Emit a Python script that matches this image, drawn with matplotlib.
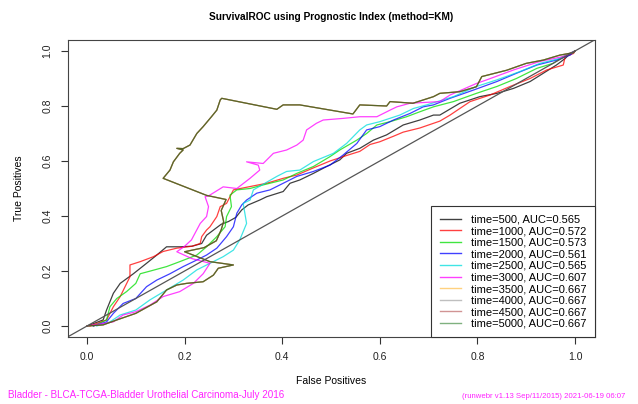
import matplotlib
matplotlib.use("Agg")
import matplotlib.pyplot as plt
from matplotlib.lines import Line2D

plt.rcParams['font.family'] = ['Liberation Sans', 'DejaVu Sans']

# ---------------- data ----------------
times = [500, 1000, 1500, 2000, 2500, 3000, 3500, 4000, 4500, 5000]
aucs = [0.565, 0.572, 0.573, 0.561, 0.565, 0.607, 0.667, 0.667, 0.667, 0.667]

fp_500 = [0.0, 0.033, 0.04, 0.054, 0.068, 0.095, 0.122, 0.143, 0.163, 0.19, 0.215, 0.235, 0.245,
          0.26, 0.275, 0.29, 0.305, 0.317, 0.33, 0.354, 0.368, 0.402, 0.416, 0.436, 0.464, 0.491,
          0.518, 0.532, 0.559, 0.587, 0.614, 0.648, 0.682, 0.71, 0.723, 0.764, 0.805, 0.84, 0.874,
          0.908, 0.935, 0.962, 0.98, 0.99, 1.0]
tp_500 = [0.0, 0.022, 0.058, 0.119, 0.155, 0.19, 0.228, 0.258, 0.288, 0.288, 0.29, 0.30, 0.33,
          0.35, 0.37, 0.38, 0.395, 0.422, 0.44, 0.458, 0.47, 0.489, 0.519, 0.531, 0.555, 0.58,
          0.604, 0.628, 0.646, 0.676, 0.695, 0.731, 0.749, 0.767, 0.767, 0.81, 0.834, 0.846, 0.864,
          0.889, 0.919, 0.949, 0.973, 0.991, 1.0]

fp_1000 = [0.006, 0.04, 0.054, 0.068, 0.088, 0.088, 0.109, 0.136, 0.156, 0.184, 0.215, 0.232, 0.235,
           0.245, 0.252, 0.266, 0.273, 0.286, 0.293, 0.30, 0.334, 0.368, 0.402, 0.43, 0.464, 0.498,
           0.532, 0.559, 0.58, 0.60, 0.628, 0.648, 0.682, 0.723, 0.744, 0.785, 0.826, 0.867, 0.908,
           0.942, 0.976, 0.98, 0.997, 1.0]
tp_1000 = [0.0, 0.022, 0.07, 0.107, 0.179, 0.222, 0.234, 0.252, 0.271, 0.283, 0.29, 0.30, 0.325,
           0.349, 0.361, 0.398, 0.434, 0.446, 0.47, 0.495, 0.507, 0.519, 0.537, 0.549, 0.575, 0.60,
           0.62, 0.635, 0.66, 0.67, 0.69, 0.705, 0.72, 0.745, 0.767, 0.816, 0.84, 0.871, 0.90,
           0.931, 0.949, 0.98, 0.991, 1.0]

fp_1500 = [0.013, 0.04, 0.047, 0.061, 0.081, 0.10, 0.109, 0.13, 0.163, 0.19, 0.225, 0.245, 0.266,
           0.283, 0.286, 0.296, 0.293, 0.307, 0.334, 0.361, 0.402, 0.43, 0.464, 0.498, 0.518, 0.553,
           0.573, 0.594, 0.621, 0.655, 0.682, 0.71, 0.751, 0.798, 0.84, 0.88, 0.922, 0.955, 0.976, 1.0]
tp_1500 = [0.0, 0.022, 0.07, 0.10, 0.125, 0.155, 0.19, 0.20, 0.216, 0.234, 0.258, 0.288, 0.325,
           0.361, 0.398, 0.434, 0.476, 0.495, 0.50, 0.513, 0.531, 0.555, 0.58, 0.616, 0.64, 0.676,
           0.70, 0.731, 0.743, 0.761, 0.779, 0.797, 0.816, 0.846, 0.871, 0.90, 0.937, 0.955, 0.98, 1.0]

fp_2000 = [0.013, 0.04, 0.054, 0.074, 0.10, 0.122, 0.143, 0.17, 0.197, 0.225, 0.245, 0.266, 0.286,
           0.30, 0.307, 0.317, 0.327, 0.348, 0.375, 0.402, 0.43, 0.464, 0.498, 0.525, 0.553, 0.573,
           0.60, 0.628, 0.662, 0.689, 0.71, 0.744, 0.792, 0.84, 0.88, 0.922, 0.962, 0.99, 1.0]
tp_2000 = [0.0, 0.015, 0.046, 0.082, 0.10, 0.143, 0.167, 0.19, 0.216, 0.24, 0.258, 0.283, 0.325,
           0.361, 0.41, 0.44, 0.458, 0.483, 0.495, 0.519, 0.544, 0.562, 0.585, 0.622, 0.664, 0.713,
           0.725, 0.749, 0.773, 0.797, 0.804, 0.828, 0.858, 0.889, 0.919, 0.949, 0.967, 0.985, 1.0]

fp_2500 = [0.02, 0.047, 0.068, 0.10, 0.129, 0.163, 0.197, 0.225, 0.252, 0.279, 0.30, 0.313, 0.327,
           0.32, 0.334, 0.341, 0.389, 0.409, 0.436, 0.464, 0.505, 0.532, 0.559, 0.573, 0.60, 0.641,
           0.669, 0.696, 0.751, 0.798, 0.84, 0.887, 0.928, 0.969, 1.0]
tp_2500 = [0.0, 0.015, 0.04, 0.058, 0.095, 0.131, 0.167, 0.204, 0.228, 0.252, 0.276, 0.313, 0.373,
           0.446, 0.458, 0.495, 0.544, 0.562, 0.567, 0.598, 0.628, 0.664, 0.713, 0.731, 0.743, 0.767,
           0.791, 0.804, 0.834, 0.871, 0.895, 0.925, 0.955, 0.973, 1.0]

fp_3000 = [0.0, 0.054, 0.074, 0.10, 0.129, 0.156, 0.19, 0.218, 0.238, 0.252, 0.215, 0.184, 0.20,
           0.214, 0.232, 0.245, 0.249, 0.242, 0.249, 0.279, 0.307, 0.334, 0.354, 0.351, 0.327,
           0.361, 0.382, 0.409, 0.43, 0.443, 0.45, 0.47, 0.484, 0.525, 0.559, 0.594, 0.621, 0.635,
           0.662, 0.723, 0.744, 0.798, 0.819, 0.874, 0.928, 0.976, 1.0]
tp_3000 = [0.0, 0.015, 0.04, 0.052, 0.076, 0.107, 0.125, 0.155, 0.19, 0.228, 0.245, 0.27, 0.29,
           0.313, 0.373, 0.398, 0.434, 0.47, 0.473, 0.506, 0.50, 0.537, 0.567, 0.585, 0.597,
           0.591, 0.628, 0.64, 0.658, 0.676, 0.713, 0.737, 0.749, 0.755, 0.761, 0.761, 0.785, 0.797,
           0.81, 0.816, 0.84, 0.882, 0.895, 0.931, 0.962, 0.98, 1.0]

fp_3500 = [0.0, 0.033, 0.061, 0.10, 0.143, 0.163, 0.184, 0.204, 0.238, 0.259, 0.269, 0.30, 0.252,
           0.20, 0.24, 0.265, 0.275, 0.28, 0.275, 0.285, 0.245, 0.156, 0.17, 0.177, 0.19, 0.197,
           0.184, 0.197, 0.211, 0.225, 0.238, 0.255, 0.266, 0.273, 0.276, 0.389, 0.402, 0.436,
           0.545, 0.559, 0.614, 0.621, 0.668, 0.71, 0.723, 0.764, 0.798, 0.809, 0.86, 0.90, 0.935,
           0.969, 0.997, 1.0]
tp_3500 = [0.0, 0.004, 0.022, 0.046, 0.088, 0.131, 0.149, 0.155, 0.161, 0.185, 0.21, 0.222, 0.234,
           0.27, 0.285, 0.31, 0.35, 0.38, 0.42, 0.46, 0.475, 0.537, 0.567, 0.597, 0.628, 0.64,
           0.646, 0.645, 0.658, 0.70, 0.725, 0.761, 0.785, 0.822, 0.828, 0.788, 0.804, 0.804,
           0.771, 0.804, 0.80, 0.816, 0.81, 0.834, 0.846, 0.852, 0.87, 0.907, 0.93, 0.955, 0.967,
           0.985, 0.994, 1.0]
fp_4000, tp_4000 = fp_3500, tp_3500
fp_4500, tp_4500 = fp_3500, tp_3500
fp_5000, tp_5000 = fp_3500, tp_3500

colors = ['black', 'red', '#00DD00', 'blue', '#00DDDD', 'magenta',
          'orange', 'gray', 'brown', 'darkgreen']
alphas = [0.75, 0.75, 0.75, 0.75, 0.75, 0.75, 0.5, 0.5, 0.5, 0.5]

fps = [fp_500, fp_1000, fp_1500, fp_2000, fp_2500, fp_3000, fp_3500, fp_4000, fp_4500, fp_5000]
tps = [tp_500, tp_1000, tp_1500, tp_2000, tp_2500, tp_3000, tp_3500, tp_4000, tp_4500, tp_5000]

# ---------------- figure ----------------
fig = plt.figure(figsize=(6.38, 4.04), dpi=100)
ax = fig.add_axes([67.5 / 638, 1 - 337 / 404, (594.5 - 67.5) / 638, (337 - 40) / 404])

for fp, tp, c, a in zip(fps, tps, colors, alphas):
    ax.plot(fp, tp, color=c, alpha=a, lw=0.9)

ax.axline((0, 0), (1, 1), color='#555555', lw=0.9)

ax.set_xlim(-0.04, 1.04)
ax.set_ylim(-0.04, 1.04)
ticks = [0.0, 0.2, 0.4, 0.6, 0.8, 1.0]
ax.set_xticks(ticks)
ax.set_yticks(ticks)
ax.set_xticklabels([f"{t:.1f}" for t in ticks])
ax.set_yticklabels([f"{t:.1f}" for t in ticks], rotation=90, va='center')
ax.tick_params(axis='both', length=5, width=0.8, color='#333333', labelsize=7.5,
               labelcolor='#222222')
ax.tick_params(axis='x', pad=6)
ax.tick_params(axis='y', pad=6)
for s in ax.spines.values():
    s.set_color('#444444')
    s.set_linewidth(0.8)

handles = [Line2D([], [], color=c, alpha=a, lw=1.0) for c, a in zip(colors, alphas)]
labels = [f"time={t}, AUC={a:.3f}" for t, a in zip(times, aucs)]
leg = ax.legend(handles, labels, loc='lower right', bbox_to_anchor=(1.0, 0.0),
                borderaxespad=0, fontsize=8, frameon=True, fancybox=False,
                edgecolor='#333333', framealpha=1, handlelength=1.9, handletextpad=0.9,
                labelspacing=0.14, borderpad=0.75)
leg.get_frame().set_linewidth(0.8)

fig.text(331 / 638, 1 - 17 / 404, "SurvivalROC using Prognostic Index (method=KM)",
         ha='center', va='center', fontsize=7.3, fontweight='bold')
fig.text(331 / 638, 1 - 381 / 404, "False Positives", ha='center', va='center', fontsize=7.5)
fig.text(19 / 638, 1 - 188 / 404, "True Positives", ha='center', va='center', fontsize=7.5,
         rotation=90)
fig.text(8 / 638, 1 - 395 / 404, "Bladder - BLCA-TCGA-Bladder Urothelial Carcinoma-July 2016",
         ha='left', va='center', fontsize=7.1, color='#FF22FF')
fig.text(625 / 638, 1 - 396 / 404, "(runwebr v1.13 Sep/11/2015) 2021-06-19 06:07",
         ha='right', va='center', fontsize=5.6, color='#FF22FF')

fig.savefig("out.png", dpi=100)
